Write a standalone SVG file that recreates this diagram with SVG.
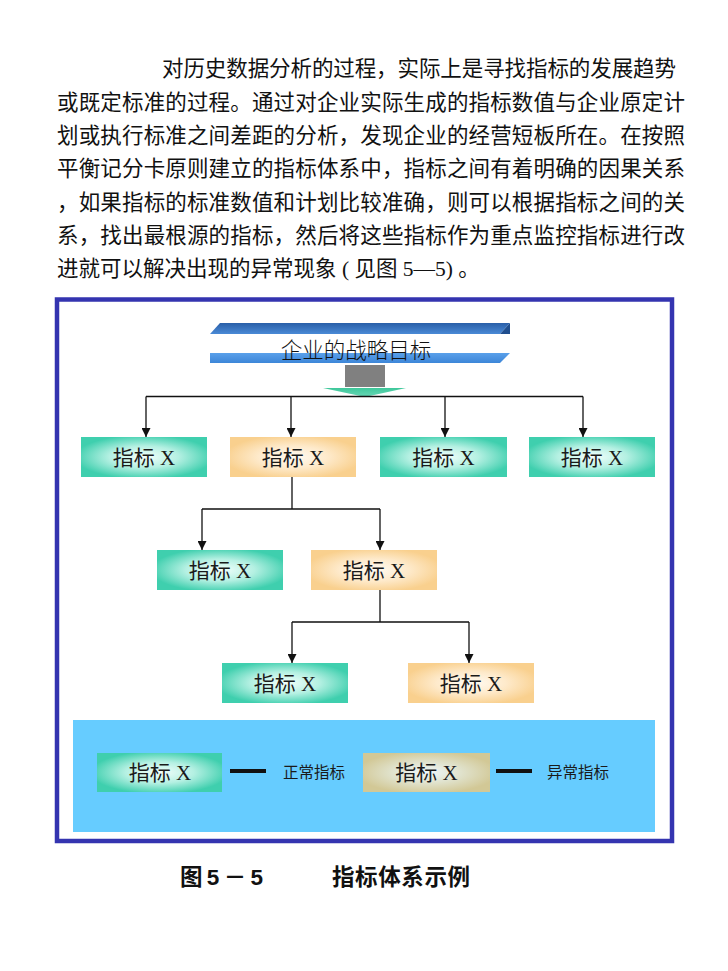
<svg xmlns="http://www.w3.org/2000/svg" width="728" height="971" viewBox="0 0 728 971">
<defs>
<style>
.para{font-family:"Liberation Serif","Noto Sans CJK SC",serif;font-size:21.5px;fill:#111;}
.lbl{font-family:"Liberation Serif","Noto Sans CJK SC",serif;font-size:21px;fill:#1a1a1a;text-anchor:middle;}
.small{font-family:"Noto Sans CJK SC",sans-serif;font-size:15.5px;fill:#1a1a1a;}
.cap{font-family:"Liberation Sans","Noto Sans CJK SC",sans-serif;font-size:22.5px;font-weight:bold;fill:#111;}
.conn{fill:none;stroke:#111;stroke-width:1.3;}
</style>
<radialGradient id="gTeal" cx="50%" cy="50%" r="55%">
<stop offset="0" stop-color="#f4fffc"/>
<stop offset="0.5" stop-color="#b4f0e2"/>
<stop offset="1" stop-color="#3fcfae"/>
</radialGradient>
<radialGradient id="gOrange" cx="50%" cy="50%" r="55%">
<stop offset="0" stop-color="#fffbf3"/>
<stop offset="0.5" stop-color="#feeacb"/>
<stop offset="1" stop-color="#f9d08e"/>
</radialGradient>
<radialGradient id="gKhaki" cx="50%" cy="50%" r="55%">
<stop offset="0" stop-color="#eef8fc"/>
<stop offset="0.5" stop-color="#e0e2cc"/>
<stop offset="1" stop-color="#d2c896"/>
</radialGradient>
<linearGradient id="gBar1" x1="0" y1="0" x2="0" y2="1">
<stop offset="0" stop-color="#2a5fa8"/>
<stop offset="1" stop-color="#4a8ad6"/>
</linearGradient>
<linearGradient id="gBar2" x1="0" y1="0" x2="0" y2="1">
<stop offset="0" stop-color="#5aa0ea"/>
<stop offset="1" stop-color="#3d86d8"/>
</linearGradient>
<linearGradient id="gArrow" x1="0" y1="0" x2="0" y2="1">
<stop offset="0" stop-color="#3ec79a"/>
<stop offset="1" stop-color="#6ad8b8"/>
</linearGradient>
<marker id="arr" viewBox="0 0 10 10" refX="10" refY="5" markerWidth="9" markerHeight="9" markerUnits="userSpaceOnUse" orient="auto">
<path d="M0,0 L10,5 L0,10 Z" fill="#111"/>
</marker>
</defs>

<g id="paragraph">
<text class="para" x="162" y="76" textLength="514" lengthAdjust="spacing">对历史数据分析的过程，实际上是寻找指标的发展趋势</text>
<text class="para" x="57" y="109.5" textLength="628" lengthAdjust="spacing">或既定标准的过程。通过对企业实际生成的指标数值与企业原定计</text>
<text class="para" x="57" y="143" textLength="628" lengthAdjust="spacing">划或执行标准之间差距的分析，发现企业的经营短板所在。在按照</text>
<text class="para" x="57" y="176" textLength="628" lengthAdjust="spacing">平衡记分卡原则建立的指标体系中，指标之间有着明确的因果关系</text>
<text class="para" x="57" y="209.5" textLength="628" lengthAdjust="spacing">，如果指标的标准数值和计划比较准确，则可以根据指标之间的关</text>
<text class="para" x="57" y="243" textLength="628" lengthAdjust="spacing">系，找出最根源的指标，然后将这些指标作为重点监控指标进行改</text>
<text class="para" x="57" y="276">进就可以解决出现的异常现象 ( 见图 5—5) 。</text>
</g>

<g id="frame">
<rect x="57" y="299.5" width="615" height="541.5" fill="#ffffff" stroke="#3434b0" stroke-width="4.5"/>
</g>

<g id="goal">
<polygon points="220,323 510,323 500,334 210,334" fill="url(#gBar1)"/>
<polygon points="510,323 510,334 500,334" fill="#1f4e8e"/>
<polygon points="210,353 510,353 500,363 210,363" fill="url(#gBar2)"/>
<text x="356" y="358" style="font-family:'Noto Sans CJK SC',sans-serif;font-size:21.5px;fill:#111;text-anchor:middle;" font-weight="300">企业的战略目标</text>
<rect x="345" y="365" width="40" height="22" fill="#808080"/>
<polygon points="323,388 406,388 365,397" fill="url(#gArrow)"/>
</g>

<g id="connectors">
<path class="conn" d="M146,396.5 H583"/>
<path class="conn" d="M146,396.5 V437" marker-end="url(#arr)"/>
<path class="conn" d="M291,396.5 V437" marker-end="url(#arr)"/>
<path class="conn" d="M445,396.5 V437" marker-end="url(#arr)"/>
<path class="conn" d="M583,396.5 V437" marker-end="url(#arr)"/>
<path class="conn" d="M292,477 V509 M202,509 H380"/>
<path class="conn" d="M202,509 V550" marker-end="url(#arr)"/>
<path class="conn" d="M380,509 V550" marker-end="url(#arr)"/>
<path class="conn" d="M380,590 V622 M292,622 H469"/>
<path class="conn" d="M292,622 V663" marker-end="url(#arr)"/>
<path class="conn" d="M469,622 V663" marker-end="url(#arr)"/>
</g>

<g id="n1"><rect x="81" y="437" width="126" height="40" fill="url(#gTeal)"/><text class="lbl" x="144" y="465">指标 X</text></g>
<g id="n2"><rect x="230" y="437" width="126" height="40" fill="url(#gOrange)"/><text class="lbl" x="293" y="465">指标 X</text></g>
<g id="n3"><rect x="380" y="437" width="127" height="40" fill="url(#gTeal)"/><text class="lbl" x="443.5" y="465">指标 X</text></g>
<g id="n4"><rect x="529" y="437" width="126" height="40" fill="url(#gTeal)"/><text class="lbl" x="592" y="465">指标 X</text></g>
<g id="n5"><rect x="157" y="550" width="126" height="40" fill="url(#gTeal)"/><text class="lbl" x="220" y="578">指标 X</text></g>
<g id="n6"><rect x="311" y="550" width="126" height="40" fill="url(#gOrange)"/><text class="lbl" x="374" y="578">指标 X</text></g>
<g id="n7"><rect x="222" y="663" width="126" height="40" fill="url(#gTeal)"/><text class="lbl" x="285" y="691">指标 X</text></g>
<g id="n8"><rect x="408" y="663" width="126" height="40" fill="url(#gOrange)"/><text class="lbl" x="471" y="691">指标 X</text></g>

<g id="legend">
<rect x="73" y="720" width="582" height="112" fill="#66ccff"/>
<rect x="97" y="753" width="125" height="39" fill="url(#gTeal)"/>
<text class="lbl" x="160" y="780">指标 X</text>
<line x1="230" y1="771" x2="266" y2="771" stroke="#111" stroke-width="4"/>
<text class="small" x="283" y="778">正常指标</text>
<rect x="363" y="753" width="127" height="39" fill="url(#gKhaki)"/>
<text class="lbl" x="426.5" y="780">指标 X</text>
<line x1="496" y1="771" x2="532" y2="771" stroke="#111" stroke-width="4"/>
<text class="small" x="547" y="778">异常指标</text>
</g>

<g id="caption">
<text class="cap" x="180" y="885" textLength="83" lengthAdjust="spacing">图 5 － 5</text>
<text class="cap" x="332" y="885" textLength="138" lengthAdjust="spacing">指标体系示例</text>
</g>
</svg>
